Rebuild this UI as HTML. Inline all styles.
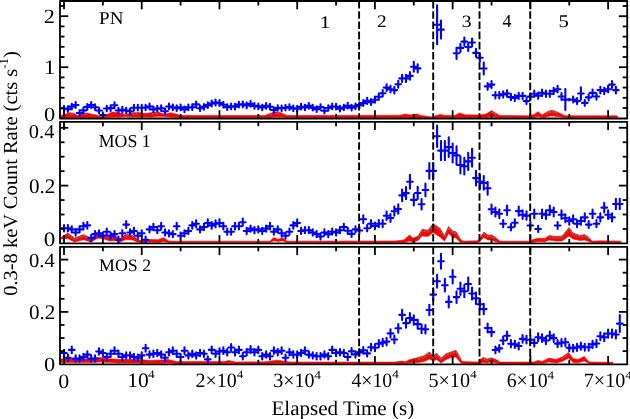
<!DOCTYPE html>
<html><head><meta charset="utf-8"><title>Light curve</title>
<style>html,body{margin:0;padding:0;background:#fff;overflow:hidden}svg{display:block}</style></head>
<body><svg width="630" height="419" viewBox="0 0 630 419"><defs><clipPath id="c0"><rect x="60.0" y="1.0" width="567.2" height="117.5"/></clipPath><clipPath id="c1"><rect x="60.0" y="121.8" width="567.2" height="121.60000000000001"/></clipPath><clipPath id="c2"><rect x="60.0" y="246.8" width="567.2" height="117.5"/></clipPath></defs>
<g clip-path="url(#c0)">
<polygon points="60.5,115.5 65.6,113.9 70.3,112.7 74.3,113.5 78.3,115.9 83.8,113.1 87.8,113.1 91.7,114.3 96.5,115.0 100.5,116.5 104.4,115.5 109.2,113.5 112.0,112.0 120.0,113.1 126.0,114.5 132.0,112.7 138.0,112.5 146.0,113.5 152.0,112.5 158.0,112.0 165.0,114.5 170.0,112.8 176.0,114.0 180.0,115.3 200.0,115.5 265.0,115.5 270.0,113.5 275.0,111.7 280.0,112.5 287.0,115.5 400.0,115.3 405.6,113.9 410.0,115.0 417.2,113.9 420.0,115.3 432.0,117.0 436.0,115.5 440.6,114.4 445.0,115.5 455.0,115.5 459.4,113.0 465.0,114.8 480.0,115.0 486.0,114.0 491.7,110.6 496.0,113.5 500.0,115.5 530.0,115.8 534.0,114.5 538.0,111.7 542.0,115.0 546.0,112.5 550.2,110.6 553.6,110.6 557.0,112.0 561.3,113.9 565.0,115.7 617.0,115.8 618.0,117.5 618.0,117.5 617.0,117.5 565.0,117.5 561.3,117.0 557.0,116.5 553.6,116.0 550.2,116.0 546.0,117.0 542.0,117.5 538.0,116.5 534.0,117.5 530.0,117.5 500.0,117.5 496.0,117.5 491.7,116.5 486.0,117.5 480.0,117.5 465.0,117.5 459.4,117.5 455.0,117.5 445.0,117.5 440.6,117.5 436.0,117.5 432.0,117.8 420.0,117.5 417.2,117.5 410.0,117.5 405.6,117.5 400.0,117.5 287.0,117.5 280.0,117.0 275.0,117.0 270.0,117.5 265.0,117.5 200.0,117.5 180.0,117.5 176.0,117.2 170.0,117.0 165.0,116.5 158.0,116.3 152.0,117.0 146.0,117.0 138.0,117.0 132.0,117.0 126.0,116.5 120.0,117.0 112.0,117.0 109.2,117.2 104.4,117.5 100.5,117.8 96.5,117.5 91.7,117.5 87.8,117.5 83.8,117.5 78.3,117.8 74.3,117.5 70.3,117.5 65.6,117.5 60.5,118.0" fill="#ff0000" stroke="#ff0000" stroke-width="0.6" stroke-linejoin="round"/><polyline points="70.3,114.0 74.3,114.6" fill="none" stroke="#648282" stroke-width="1.4" stroke-dasharray="2.2 1.1" opacity="0.9"/><polyline points="83.8,114.3 87.8,114.3" fill="none" stroke="#648282" stroke-width="1.4" stroke-dasharray="2.2 1.1" opacity="0.9"/><polyline points="132.0,113.9 138.0,113.8" fill="none" stroke="#648282" stroke-width="1.4" stroke-dasharray="2.2 1.1" opacity="0.9"/><polyline points="152.0,113.8 158.0,113.2" fill="none" stroke="#648282" stroke-width="1.4" stroke-dasharray="2.2 1.1" opacity="0.9"/><polyline points="270.0,114.6 275.0,113.1 280.0,113.8" fill="none" stroke="#648282" stroke-width="1.4" stroke-dasharray="2.2 1.1" opacity="0.9"/><polyline points="491.7,112.0 496.0,114.6" fill="none" stroke="#648282" stroke-width="1.4" stroke-dasharray="2.2 1.1" opacity="0.9"/><polyline points="546.0,113.8 550.2,112.0 553.6,112.0 557.0,113.3" fill="none" stroke="#648282" stroke-width="1.4" stroke-dasharray="2.2 1.1" opacity="0.9"/><path d="M61.20 108.50H66.80M65.09 109.10H70.69M68.97 106.60H74.57M72.86 105.00H78.46M76.75 113.00H82.35M80.63 110.40H86.23M84.52 106.90H90.12M88.41 105.00H94.01M92.29 107.20H97.89M96.18 110.50H101.78M100.06 115.00H105.66M103.95 108.50H109.55M107.84 108.10H113.44M111.72 105.30H117.32M115.61 110.50H121.21M119.50 109.70H125.10M123.38 110.50H128.98M127.27 111.30H132.87M131.16 107.70H136.76M135.04 107.70H140.64M138.93 107.70H144.53M142.82 107.50H148.42M146.70 106.50H152.30M150.59 109.40H156.19M154.48 108.60H160.08M158.36 108.20H163.96M162.25 111.30H167.85M166.14 106.50H171.74M170.02 107.40H175.62M173.91 108.20H179.51M177.79 107.40H183.40M181.68 109.40H187.28M185.57 107.40H191.17M189.45 107.20H195.05M193.34 104.40H198.94M197.23 108.30H202.83M201.11 106.80H206.71M205.00 105.10H210.60M208.89 103.50H214.49M212.77 102.50H218.37M216.66 103.10H222.26M220.55 104.70H226.15M224.43 107.10H230.03M228.32 106.30H233.92M232.21 106.70H237.81M236.09 104.60H241.69M239.98 104.40H245.58M243.87 105.50H249.47M247.75 103.90H253.35M251.64 105.90H257.24M255.52 106.40H261.12M259.41 107.50H265.01M263.30 105.90H268.90M267.18 106.70H272.78M271.07 110.00H276.67M274.96 108.00H280.56M278.84 108.30H284.44M282.73 107.70H288.33M286.62 107.10H292.22M290.50 108.40H296.10M294.39 108.70H299.99M298.28 106.70H303.88M302.16 107.50H307.76M306.05 105.90H311.65M309.94 107.60H315.54M313.82 109.10H319.42M317.71 107.10H323.31M321.60 110.70H327.20M325.48 108.00H331.08M329.37 106.50H334.97M333.25 106.70H338.86M337.14 108.70H342.74M341.03 107.50H346.63M344.91 105.70H350.51M348.80 107.60H354.40M352.69 106.40H358.29M356.57 105.10H362.17M360.46 103.10H366.06M364.35 100.90H369.95M368.23 102.10H373.83M372.12 99.70H377.72M376.01 96.70H381.61M379.89 93.20H385.49M383.78 87.60H389.38M387.67 89.20H393.27M391.55 90.10H397.15M395.44 84.20H401.04M399.33 78.40H404.93M403.21 78.40H408.81M407.10 75.90H412.70M410.98 66.70H416.58M414.87 68.40H420.47M434.30 24.80H439.90M438.19 29.60H443.79M453.74 53.30H459.34M457.62 47.90H463.22M461.51 41.60H467.11M465.40 47.00H471.00M469.28 42.50H474.88M473.17 52.90H478.77M477.06 57.70H482.66M480.94 68.50H486.54M484.83 86.40H490.43M488.71 84.60H494.31M492.60 95.30H498.20M496.49 95.30H502.09M500.37 94.40H505.97M504.26 93.50H509.86M508.15 97.10H513.75M512.03 98.00H517.63M515.92 95.90H521.52M519.81 95.90H525.41M523.69 101.10H529.29M527.58 96.60H533.18M531.47 93.80H537.07M535.35 95.60H540.95M539.24 92.90H544.84M543.13 93.80H548.73M547.01 93.80H552.61M550.90 91.00H556.50M554.79 89.20H560.39M558.67 96.50H564.27M562.56 99.60H568.16M566.45 99.60H572.04M570.33 99.50H575.93M574.22 101.10H579.82M578.10 93.50H583.70M581.99 102.90H587.59M585.88 97.40H591.48M589.76 92.90H595.36M593.65 96.50H599.25M597.54 90.10H603.14M601.42 91.00H607.02M605.31 89.20H610.91M609.20 84.60H614.80M613.08 90.10H618.68" stroke="#0000ff" stroke-width="2.1" stroke-linecap="round" fill="none"/><path d="M64.00 105.70V111.30M67.89 106.30V111.90M71.77 103.76V109.44M75.66 102.11V107.89M79.55 110.20V115.80M83.43 107.60V113.20M87.32 104.07V109.73M91.21 102.11V107.89M95.09 104.38V110.02M98.98 107.70V113.30M102.86 112.20V117.80M106.75 105.70V111.30M110.64 105.30V110.90M114.52 102.42V108.18M118.41 107.70V113.30M122.30 106.90V112.50M126.18 107.70V113.30M130.07 108.50V114.10M133.96 104.89V110.51M137.84 104.89V110.51M141.73 104.89V110.51M145.62 104.69V110.31M149.50 103.66V109.34M153.39 106.60V112.20M157.28 105.80V111.40M161.16 105.40V111.00M165.05 108.50V114.10M168.94 103.66V109.34M172.82 104.58V110.22M176.71 105.40V111.00M180.59 104.58V110.22M184.48 106.60V112.20M188.37 104.58V110.22M192.25 104.38V110.02M196.14 101.49V107.31M200.03 105.50V111.10M203.91 103.96V109.64M207.80 102.21V107.99M211.69 100.57V106.43M215.57 99.54V105.46M219.46 100.16V106.04M223.35 101.80V107.60M227.23 104.27V109.93M231.12 103.45V109.15M235.01 103.86V109.54M238.89 101.70V107.50M242.78 101.49V107.31M246.67 102.63V108.37M250.55 100.98V106.82M254.44 103.04V108.76M258.32 103.55V109.25M262.21 104.69V110.31M266.10 103.04V108.76M269.98 103.86V109.54M273.87 107.20V112.80M277.76 105.20V110.80M281.64 105.50V111.10M285.53 104.89V110.51M289.42 104.27V109.93M293.30 105.60V111.20M297.19 105.90V111.50M301.08 103.86V109.54M304.96 104.69V110.31M308.85 103.04V108.76M312.74 104.79V110.41M316.62 106.30V111.90M320.51 104.27V109.93M324.40 107.90V113.50M328.28 105.20V110.80M332.17 103.66V109.34M336.06 103.86V109.54M339.94 105.90V111.50M343.83 104.69V110.31M347.71 102.83V108.57M351.60 104.79V110.41M355.49 103.55V109.25M359.37 102.21V107.99M363.26 100.16V106.04M367.15 97.89V103.91M371.03 99.13V105.07M374.92 96.66V102.74M378.81 93.57V99.83M382.69 89.96V96.44M386.58 84.20V91.00M390.47 85.85V92.55M394.35 86.77V93.43M398.24 80.70V87.70M402.13 74.73V82.07M406.01 74.73V82.07M409.90 72.16V79.64M413.78 61.70V71.70M417.67 64.40V72.40M437.10 5.30V44.30M440.99 20.60V38.60M456.54 47.70V58.90M460.42 43.90V51.90M464.31 37.60V45.60M468.20 43.00V51.00M472.08 38.50V46.50M475.97 48.90V56.90M479.86 53.70V61.70M483.74 62.50V74.50M487.63 82.96V89.84M491.51 81.11V88.09M495.40 92.13V98.47M499.29 92.13V98.47M503.17 91.20V97.60M507.06 90.27V96.73M510.95 93.98V100.22M514.83 94.91V101.09M518.72 92.74V99.06M522.61 92.74V99.06M526.49 98.10V104.10M530.38 93.46V99.74M534.27 90.58V97.02M538.15 92.44V98.76M542.04 89.66V96.14M545.93 90.58V97.02M549.81 90.58V97.02M553.70 87.70V94.30M557.59 85.85V92.55M561.47 93.00V100.00M565.36 89.10V110.10M569.25 98.80V100.40M573.13 96.45V102.55M577.02 98.10V104.10M580.90 87.20V99.80M584.79 99.95V105.85M588.68 94.29V100.51M592.56 89.66V96.14M596.45 93.36V99.64M600.34 86.77V93.43M604.22 87.70V94.30M608.11 85.85V92.55M612.00 81.11V88.09M615.88 86.77V93.43" stroke="#0000ff" stroke-width="2.1" stroke-linecap="round" fill="none"/>
<line x1="359.10" y1="1.00" x2="359.10" y2="118.50" stroke="#000" stroke-width="1.9" stroke-dasharray="7.6 2.6"/>
<line x1="433.20" y1="1.00" x2="433.20" y2="118.50" stroke="#000" stroke-width="1.9" stroke-dasharray="7.6 2.6"/>
<line x1="479.50" y1="1.00" x2="479.50" y2="118.50" stroke="#000" stroke-width="1.9" stroke-dasharray="7.6 2.6"/>
<line x1="530.20" y1="1.00" x2="530.20" y2="118.50" stroke="#000" stroke-width="1.9" stroke-dasharray="7.6 2.6"/>
</g>
<g clip-path="url(#c1)">
<polygon points="60.5,237.0 62.0,236.9 67.9,232.9 74.5,238.1 83.4,234.5 91.0,238.0 98.0,233.7 104.0,234.3 110.0,236.7 115.0,236.0 120.0,238.5 125.7,234.3 133.0,235.5 137.0,239.0 142.0,241.0 150.0,239.5 158.0,239.7 163.7,237.7 169.0,241.2 270.0,241.2 273.8,237.4 278.0,239.5 282.4,237.4 287.0,241.2 395.0,241.0 404.0,240.0 409.5,235.0 413.0,238.3 418.0,236.0 422.0,229.3 428.0,230.2 433.0,223.6 440.0,228.3 444.5,235.5 448.5,226.4 452.5,230.7 456.0,231.7 460.0,238.8 463.0,241.2 478.0,240.8 484.0,232.1 488.0,235.2 491.0,234.8 495.0,237.0 500.0,241.2 530.0,241.2 533.0,239.5 538.0,238.3 545.0,238.5 549.0,235.5 556.0,236.5 562.0,236.0 569.0,227.4 573.0,233.1 580.0,235.5 584.5,234.5 589.0,237.5 592.0,241.2 600.0,240.8 621.0,241.2 621.0,242.5 600.0,242.5 592.0,242.5 589.0,241.5 584.5,240.0 580.0,240.5 573.0,239.0 569.0,236.0 562.0,241.0 556.0,241.0 549.0,240.0 545.0,241.8 538.0,241.5 533.0,242.2 530.0,242.5 500.0,242.5 495.0,241.5 491.0,240.0 488.0,240.0 484.0,237.5 478.0,242.5 463.0,242.5 460.0,242.0 456.0,238.0 452.5,237.0 448.5,233.5 444.5,241.0 440.0,236.9 433.0,232.4 428.0,236.5 422.0,236.0 418.0,240.5 413.0,242.0 409.5,241.0 404.0,242.5 395.0,242.5 287.0,242.5 282.4,240.8 278.0,241.5 273.8,240.8 270.0,242.5 169.0,242.5 163.7,241.5 158.0,242.5 150.0,242.0 142.0,242.5 137.0,242.0 133.0,240.0 125.7,239.5 120.0,242.0 115.0,240.5 110.0,241.0 104.0,239.0 98.0,238.0 91.0,242.0 83.4,239.7 74.5,242.1 67.9,238.5 62.0,238.9 60.5,239.0" fill="#ff0000" stroke="#ff0000" stroke-width="0.6" stroke-linejoin="round"/><polyline points="67.9,234.3 74.5,239.2 83.4,235.9 91.0,239.1 98.0,234.9 104.0,235.6 110.0,237.9 115.0,237.3" fill="none" stroke="#648282" stroke-width="1.4" stroke-dasharray="2.2 1.1" opacity="0.9"/><polyline points="125.7,235.7 133.0,236.8" fill="none" stroke="#648282" stroke-width="1.4" stroke-dasharray="2.2 1.1" opacity="0.9"/><polyline points="418.0,237.3 422.0,230.7 428.0,231.6 433.0,225.0 440.0,229.7 444.5,236.9 448.5,227.8 452.5,232.1 456.0,233.1" fill="none" stroke="#648282" stroke-width="1.4" stroke-dasharray="2.2 1.1" opacity="0.9"/><polyline points="484.0,233.5 488.0,236.5 491.0,236.2 495.0,238.3" fill="none" stroke="#648282" stroke-width="1.4" stroke-dasharray="2.2 1.1" opacity="0.9"/><polyline points="549.0,236.8 556.0,237.8 562.0,237.4 569.0,228.8 573.0,234.5 580.0,236.9 584.5,235.9 589.0,238.6" fill="none" stroke="#648282" stroke-width="1.4" stroke-dasharray="2.2 1.1" opacity="0.9"/><path d="M61.20 228.30H66.80M65.09 228.30H70.69M68.97 229.40H74.57M72.86 232.50H78.46M76.75 229.40H82.35M80.63 226.20H86.23M84.52 225.40H90.12M88.41 238.10H94.01M92.29 234.10H97.89M96.18 233.30H101.78M100.06 235.70H105.66M103.95 231.70H109.55M107.84 235.70H113.44M111.72 234.10H117.32M115.61 239.70H121.21M119.50 233.30H125.10M123.38 224.60H128.98M127.27 232.50H132.87M131.16 231.00H136.76M135.04 235.70H140.64M138.93 233.30H144.53M142.82 239.70H148.42M146.70 229.40H152.30M150.59 227.00H156.19M154.48 230.20H160.08M158.36 226.20H163.96M162.25 232.50H167.85M166.14 233.30H171.74M170.02 234.10H175.62M173.91 226.20H179.51M177.79 235.70H183.40M181.68 233.30H187.28M185.57 231.00H191.17M189.45 225.40H195.05M193.34 223.80H198.94M197.23 229.40H202.83M201.11 227.00H206.71M205.00 223.00H210.60M208.89 225.40H214.49M212.77 223.80H218.37M216.66 223.00H222.26M220.55 226.20H226.15M224.43 231.70H230.03M228.32 231.70H233.92M232.21 226.20H237.81M236.09 226.20H241.69M239.98 222.20H245.58M243.87 231.00H249.47M247.75 228.60H253.35M251.64 230.20H257.24M255.52 229.40H261.12M259.41 231.00H265.01M263.30 228.60H268.90M267.18 226.20H272.78M271.07 231.70H276.67M274.96 229.40H280.56M278.84 233.30H284.44M282.73 235.70H288.33M286.62 231.70H292.22M290.50 225.40H296.10M294.39 223.00H299.99M298.28 231.00H303.88M302.16 230.20H307.76M306.05 230.20H311.65M309.94 232.50H315.54M313.82 234.10H319.42M317.71 236.50H323.31M321.60 232.50H327.20M325.48 234.10H331.08M329.37 231.70H334.97M333.25 232.50H338.86M337.14 230.20H342.74M341.03 227.00H346.63M344.91 230.80H350.51M348.80 233.90H354.40M352.69 229.40H358.29M356.57 230.50H362.17M360.46 219.20H366.06M364.35 228.20H369.95M368.23 223.70H373.83M372.12 226.00H377.72M376.01 223.70H381.61M379.89 223.70H385.49M383.78 215.80H389.38M387.67 218.00H393.27M391.55 211.20H397.15M395.44 209.00H401.04M399.33 195.40H404.93M403.21 193.10H408.81M407.10 181.70H412.70M410.98 199.90H416.58M414.87 193.00H420.47M418.76 204.30H424.36M422.64 190.00H428.24M426.53 170.90H432.13M430.42 170.90H436.02M434.30 136.30H439.90M438.19 150.60H443.79M442.08 150.60H447.68M445.96 147.10H451.56M449.85 153.00H455.45M453.74 155.40H459.34M457.62 165.00H463.22M461.51 166.20H467.11M465.40 161.40H471.00M469.28 157.80H474.88M473.17 178.10H478.77M477.06 181.70H482.66M480.94 182.90H486.54M484.83 188.30H490.43M488.71 209.20H494.31M492.60 212.00H498.20M496.49 213.80H502.09M500.37 223.70H505.97M504.26 210.30H509.86M508.15 227.20H513.75M512.03 222.80H517.63M515.92 211.10H521.52M519.81 214.70H525.41M523.69 215.60H529.29M527.58 225.50H533.18M531.47 213.80H537.07M535.35 229.00H540.95M539.24 213.80H544.84M543.13 214.70H548.73M547.01 210.30H552.61M550.90 212.00H556.50M554.79 225.50H560.39M558.67 214.70H564.27M562.56 218.30H568.16M566.45 221.00H572.04M570.33 219.20H575.93M574.22 223.70H579.82M578.10 221.00H583.70M581.99 217.40H587.59M585.88 224.60H591.48M589.76 213.80H595.36M593.65 223.70H599.25M597.54 217.40H603.14M601.42 207.60H607.02M605.31 214.70H610.91M609.20 217.40H614.80M613.08 204.00H618.68M616.97 204.00H622.57" stroke="#0000ff" stroke-width="2.1" stroke-linecap="round" fill="none"/><path d="M64.00 225.15V231.45M67.89 225.15V231.45M71.77 226.30V232.50M75.66 229.40V235.60M79.55 226.30V232.50M83.43 222.87V229.53M87.32 222.01V228.79M91.21 235.00V241.20M95.09 231.00V237.20M98.98 230.20V236.40M102.86 232.60V238.80M106.75 228.60V234.80M110.64 232.60V238.80M114.52 231.00V237.20M118.41 236.60V242.80M122.30 230.20V236.40M126.18 221.14V228.06M130.07 229.40V235.60M133.96 227.90V234.10M137.84 232.60V238.80M141.73 230.20V236.40M145.62 236.60V242.80M149.50 226.30V232.50M153.39 223.74V230.26M157.28 227.10V233.30M161.16 222.87V229.53M165.05 229.40V235.60M168.94 230.20V236.40M172.82 231.00V237.20M176.71 222.87V229.53M180.59 232.60V238.80M184.48 230.20V236.40M188.37 227.90V234.10M192.25 222.01V228.79M196.14 220.27V227.33M200.03 226.30V232.50M203.91 223.74V230.26M207.80 219.41V226.59M211.69 222.01V228.79M215.57 220.27V227.33M219.46 219.41V226.59M223.35 222.87V229.53M227.23 228.60V234.80M231.12 228.60V234.80M235.01 222.87V229.53M238.89 222.87V229.53M242.78 218.54V225.86M246.67 227.90V234.10M250.55 225.47V231.73M254.44 227.10V233.30M258.32 226.30V232.50M262.21 227.90V234.10M266.10 225.47V231.73M269.98 222.87V229.53M273.87 228.60V234.80M277.76 226.30V232.50M281.64 230.20V236.40M285.53 232.60V238.80M289.42 228.60V234.80M293.30 222.01V228.79M297.19 219.41V226.59M301.08 227.90V234.10M304.96 227.10V233.30M308.85 227.10V233.30M312.74 229.40V235.60M316.62 231.00V237.20M320.51 233.40V239.60M324.40 229.40V235.60M328.28 231.00V237.20M332.17 228.60V234.80M336.06 229.40V235.60M339.94 227.10V233.30M343.83 223.74V230.26M347.71 227.70V233.90M351.60 230.80V237.00M355.49 226.30V232.50M359.37 227.40V233.60M363.26 215.29V223.11M367.15 225.04V231.36M371.03 220.16V227.24M374.92 222.66V229.34M378.81 220.16V227.24M382.69 220.16V227.24M386.58 211.61V219.99M390.47 213.99V222.01M394.35 206.63V215.77M398.24 204.24V213.76M402.13 189.51V201.29M406.01 187.02V199.18M409.90 174.68V188.72M413.78 194.39V205.41M417.67 186.91V199.09M421.56 199.15V209.45M425.44 183.67V196.33M429.33 162.98V178.82M433.22 162.98V178.82M437.10 125.51V147.09M440.99 140.99V160.21M444.88 140.99V160.21M448.76 137.20V157.00M452.65 143.59V162.41M456.54 146.19V164.61M460.42 156.59V173.41M464.31 157.89V174.51M468.20 152.69V170.11M472.08 148.79V166.81M475.97 170.78V185.42M479.86 174.68V188.72M483.74 175.98V189.82M487.63 181.82V194.78M491.51 204.46V213.94M495.40 207.49V216.51M499.29 209.44V218.16M503.17 220.16V227.24M507.06 205.65V214.95M510.95 223.95V230.45M514.83 219.19V226.41M518.72 206.52V215.68M522.61 210.42V218.98M526.49 211.39V219.81M530.38 222.11V228.89M534.27 209.44V218.16M538.15 225.90V232.10M542.04 209.44V218.16M545.93 210.42V218.98M549.81 205.65V214.95M553.70 207.49V216.51M557.59 222.11V228.89M561.47 210.42V218.98M565.36 214.32V222.28M569.25 217.24V224.76M573.13 215.29V223.11M577.02 220.16V227.24M580.90 217.24V224.76M584.79 213.34V221.46M588.68 221.14V228.06M592.56 209.44V218.16M596.45 220.16V227.24M600.34 213.34V221.46M604.22 202.73V212.47M608.11 210.42V218.98M612.00 213.34V221.46M615.88 198.83V209.17M619.77 198.83V209.17" stroke="#0000ff" stroke-width="2.1" stroke-linecap="round" fill="none"/>
<line x1="359.10" y1="121.80" x2="359.10" y2="243.40" stroke="#000" stroke-width="1.9" stroke-dasharray="7.6 2.6"/>
<line x1="433.20" y1="121.80" x2="433.20" y2="243.40" stroke="#000" stroke-width="1.9" stroke-dasharray="7.6 2.6"/>
<line x1="479.50" y1="121.80" x2="479.50" y2="243.40" stroke="#000" stroke-width="1.9" stroke-dasharray="7.6 2.6"/>
<line x1="530.20" y1="121.80" x2="530.20" y2="243.40" stroke="#000" stroke-width="1.9" stroke-dasharray="7.6 2.6"/>
</g>
<g clip-path="url(#c2)">
<polygon points="60.5,359.0 70.0,358.5 80.0,359.0 90.0,358.7 100.0,357.4 110.0,358.8 118.0,359.3 140.0,359.5 150.0,360.5 160.0,360.0 168.0,359.6 176.0,361.6 225.0,361.6 228.0,360.5 236.0,362.0 265.0,361.8 277.0,360.2 290.0,362.0 395.0,362.1 402.0,361.0 405.0,361.9 410.0,359.5 418.0,357.6 424.0,355.7 429.5,351.9 433.0,355.7 436.5,353.3 441.0,358.1 446.0,353.8 451.0,351.9 456.0,350.2 460.0,357.4 462.0,361.6 478.0,362.1 480.0,359.5 483.5,357.4 487.0,359.0 491.0,357.8 496.0,359.5 500.0,362.1 534.0,362.0 538.0,360.5 542.0,361.4 549.0,358.1 556.0,359.5 562.0,357.1 568.5,352.4 573.0,358.6 578.0,359.5 584.3,356.5 589.0,362.0 613.0,362.3 613.0,363.5 589.0,363.5 584.3,361.0 578.0,362.8 573.0,362.5 568.5,358.0 562.0,361.5 556.0,363.0 549.0,362.0 542.0,363.5 538.0,363.3 534.0,363.5 500.0,363.5 496.0,363.0 491.0,362.0 487.0,363.0 483.5,362.5 480.0,363.2 478.0,363.5 462.0,363.5 460.0,362.0 456.0,357.0 451.0,357.6 446.0,359.5 441.0,363.0 436.5,359.5 433.0,361.0 429.5,359.0 424.0,361.5 418.0,362.5 410.0,363.0 405.0,363.5 402.0,363.5 395.0,363.5 290.0,363.5 277.0,363.3 265.0,363.5 236.0,363.5 228.0,363.3 225.0,363.5 176.0,363.5 168.0,363.0 160.0,363.3 150.0,363.3 140.0,363.0 118.0,363.0 110.0,362.6 100.0,362.0 90.0,362.6 80.0,362.6 70.0,362.6 60.5,362.6" fill="#ff0000" stroke="#ff0000" stroke-width="0.6" stroke-linejoin="round"/><polyline points="418.0,359.0 424.0,357.1 429.5,353.3 433.0,357.1 436.5,354.7 441.0,359.5 446.0,355.2 451.0,353.3 456.0,351.6 460.0,358.7" fill="none" stroke="#648282" stroke-width="1.4" stroke-dasharray="2.2 1.1" opacity="0.9"/><polyline points="483.5,358.8 487.0,360.1 491.0,359.0" fill="none" stroke="#648282" stroke-width="1.4" stroke-dasharray="2.2 1.1" opacity="0.9"/><polyline points="562.0,358.3 568.5,353.8" fill="none" stroke="#648282" stroke-width="1.4" stroke-dasharray="2.2 1.1" opacity="0.9"/><path d="M61.20 353.00H66.80M65.09 357.80H70.69M68.97 349.90H74.57M72.86 358.60H78.46M76.75 358.60H82.35M80.63 357.00H86.23M84.52 354.60H90.12M88.41 358.60H94.01M92.29 358.60H97.89M96.18 351.50H101.78M100.06 353.00H105.66M103.95 357.00H109.55M107.84 353.80H113.44M111.72 350.70H117.32M115.61 353.80H121.21M119.50 357.00H125.10M123.38 355.40H128.98M127.27 355.40H132.87M131.16 357.00H136.76M135.04 357.80H140.64M138.93 355.40H144.53M142.82 348.30H148.42M146.70 354.60H152.30M150.59 353.80H156.19M154.48 353.00H160.08M158.36 354.60H163.96M162.25 357.80H167.85M166.14 352.20H171.74M170.02 350.70H175.62M173.91 353.80H179.51M177.79 357.00H183.40M181.68 350.70H187.28M185.57 355.40H191.17M189.45 353.80H195.05M193.34 355.40H198.94M197.23 353.00H202.83M201.11 353.80H206.71M205.00 359.40H210.60M208.89 349.90H214.49M212.77 353.80H218.37M216.66 351.50H222.26M220.55 350.70H226.15M224.43 352.20H230.03M228.32 347.50H233.92M232.21 352.20H237.81M236.09 349.90H241.69M239.98 356.20H245.58M243.87 352.20H249.47M247.75 349.50H253.35M251.64 352.20H257.24M255.52 349.90H261.12M259.41 356.20H265.01M263.30 354.60H268.90M267.18 356.20H272.78M271.07 350.70H276.67M274.96 352.20H280.56M278.84 350.70H284.44M282.73 357.80H288.33M286.62 352.20H292.22M290.50 354.60H296.10M294.39 354.60H299.99M298.28 353.00H303.88M302.16 350.70H307.76M306.05 354.60H311.65M309.94 355.40H315.54M313.82 356.20H319.42M317.71 356.20H323.31M321.60 354.60H327.20M325.48 356.20H331.08M329.37 349.90H334.97M333.25 353.00H338.86M337.14 352.20H342.74M341.03 353.00H346.63M344.91 357.00H350.51M348.80 351.30H354.40M352.69 354.40H358.29M356.57 352.40H362.17M360.46 350.30H366.06M364.35 353.40H369.95M368.23 347.20H373.83M372.12 347.80H377.72M376.01 343.70H381.61M379.89 342.60H385.49M383.78 341.60H389.38M387.67 333.40H393.27M391.55 339.50H397.15M395.44 328.30H401.04M399.33 314.90H404.93M403.21 323.10H408.81M407.10 318.00H412.70M410.98 320.00H416.58M414.87 324.10H420.47M418.76 328.80H424.36M422.64 329.30H428.24M426.53 310.00H432.13M430.42 294.60H436.02M434.30 281.30H439.90M438.19 261.30H443.79M442.08 285.20H447.68M445.96 301.90H451.56M449.85 276.80H455.45M453.74 297.10H459.34M457.62 288.80H463.22M461.51 291.20H467.11M465.40 284.00H471.00M469.28 293.50H474.88M473.17 298.30H478.77M477.06 304.30H482.66M480.94 309.10H486.54M484.83 328.00H490.43M488.71 332.10H494.31M492.60 350.00H498.20M496.49 348.40H502.09M500.37 340.50H505.97M504.26 335.70H509.86M508.15 343.70H513.75M512.03 344.40H517.63M515.92 346.00H521.52M519.81 338.90H525.41M523.69 339.70H529.29M527.58 339.70H533.18M531.47 342.90H537.07M535.35 337.30H540.95M539.24 338.10H544.84M543.13 340.50H548.73M547.01 335.70H552.61M550.90 338.10H556.50M554.79 343.60H560.39M558.67 342.70H564.27M562.56 342.30H568.16M566.45 347.80H572.04M570.33 348.20H575.93M574.22 347.40H579.82M578.10 346.20H583.70M581.99 347.20H587.59M585.88 347.20H591.48M589.76 344.40H595.36M593.65 343.50H599.25M597.54 336.30H603.14M601.42 337.20H607.02M605.31 333.60H610.91M609.20 333.60H614.80M613.08 334.50H618.68M616.97 323.60H622.57" stroke="#0000ff" stroke-width="2.1" stroke-linecap="round" fill="none"/><path d="M64.00 349.77V356.23M67.89 354.60V361.00M71.77 346.52V353.28M75.66 355.40V361.80M79.55 355.40V361.80M83.43 353.80V360.20M87.32 351.40V357.80M91.21 355.40V361.80M95.09 355.40V361.80M98.98 348.20V354.80M102.86 349.77V356.23M106.75 353.80V360.20M110.64 350.60V357.00M114.52 347.36V354.04M118.41 350.60V357.00M122.30 353.80V360.20M126.18 352.20V358.60M130.07 352.20V358.60M133.96 353.80V360.20M137.84 354.60V361.00M141.73 352.20V358.60M145.62 344.85V351.75M149.50 351.40V357.80M153.39 350.60V357.00M157.28 349.77V356.23M161.16 351.40V357.80M165.05 354.60V361.00M168.94 348.93V355.47M172.82 347.36V354.04M176.71 350.60V357.00M180.59 353.80V360.20M184.48 347.36V354.04M188.37 352.20V358.60M192.25 350.60V357.00M196.14 352.20V358.60M200.03 349.77V356.23M203.91 350.60V357.00M207.80 356.20V362.60M211.69 346.52V353.28M215.57 350.60V357.00M219.46 348.20V354.80M223.35 347.36V354.04M227.23 348.93V355.47M231.12 344.01V350.99M235.01 348.93V355.47M238.89 346.52V353.28M242.78 353.00V359.40M246.67 348.93V355.47M250.55 346.11V352.89M254.44 348.93V355.47M258.32 346.52V353.28M262.21 353.00V359.40M266.10 351.40V357.80M269.98 353.00V359.40M273.87 347.36V354.04M277.76 348.93V355.47M281.64 347.36V354.04M285.53 354.60V361.00M289.42 348.93V355.47M293.30 351.40V357.80M297.19 351.40V357.80M301.08 349.77V356.23M304.96 347.36V354.04M308.85 351.40V357.80M312.74 352.20V358.60M316.62 353.00V359.40M320.51 353.00V359.40M324.40 351.40V357.80M328.28 353.00V359.40M332.17 346.52V353.28M336.06 349.77V356.23M339.94 348.93V355.47M343.83 349.77V356.23M347.71 353.80V360.20M351.60 347.99V354.61M355.49 351.20V357.60M359.37 349.14V355.66M363.26 346.94V353.66M367.15 350.18V356.62M371.03 343.70V350.70M374.92 344.33V351.27M378.81 340.04V347.36M382.69 338.89V346.31M386.58 337.84V345.36M390.47 329.27V337.53M394.35 335.65V343.35M398.24 323.93V332.67M402.13 309.92V319.88M406.01 318.49V327.71M409.90 313.16V322.84M413.78 315.25V324.75M417.67 319.54V328.66M421.56 324.46V333.14M425.44 324.98V333.62M429.33 304.79V315.21M433.22 288.69V300.51M437.10 274.78V287.82M440.99 253.86V268.74M444.88 278.85V291.55M448.76 296.32V307.48M452.65 270.07V283.53M456.54 291.30V302.90M460.42 282.62V294.98M464.31 285.13V297.27M468.20 277.60V290.40M472.08 287.54V299.46M475.97 292.56V304.04M479.86 298.83V309.77M483.74 303.85V314.35M487.63 323.62V332.38M491.51 327.91V336.29M495.40 346.63V353.37M499.29 344.95V351.85M503.17 336.69V344.31M507.06 331.67V339.73M510.95 340.04V347.36M514.83 340.77V348.03M518.72 342.44V349.56M522.61 335.02V342.78M526.49 335.86V343.54M530.38 335.86V343.54M534.27 339.20V346.60M538.15 333.35V341.25M542.04 334.18V342.02M545.93 336.69V344.31M549.81 331.67V339.73M553.70 334.18V342.02M557.59 339.93V347.27M561.47 338.99V346.41M565.36 338.58V346.02M569.25 344.33V351.27M573.13 344.75V351.65M577.02 343.91V350.89M580.90 342.65V349.75M584.79 343.70V350.70M588.68 343.70V350.70M592.56 340.77V348.03M596.45 339.83V347.17M600.34 332.30V340.30M604.22 333.24V341.16M608.11 329.48V337.72M612.00 329.48V337.72M615.88 330.42V338.58M619.77 315.10V332.10" stroke="#0000ff" stroke-width="2.1" stroke-linecap="round" fill="none"/>
<line x1="359.10" y1="246.80" x2="359.10" y2="364.30" stroke="#000" stroke-width="1.9" stroke-dasharray="7.6 2.6"/>
<line x1="433.20" y1="246.80" x2="433.20" y2="364.30" stroke="#000" stroke-width="1.9" stroke-dasharray="7.6 2.6"/>
<line x1="479.50" y1="246.80" x2="479.50" y2="364.30" stroke="#000" stroke-width="1.9" stroke-dasharray="7.6 2.6"/>
<line x1="530.20" y1="246.80" x2="530.20" y2="364.30" stroke="#000" stroke-width="1.9" stroke-dasharray="7.6 2.6"/>
</g>
<line x1="64.00" y1="1.00" x2="64.00" y2="9.30" stroke="#000" stroke-width="1.8" />
<line x1="64.00" y1="118.50" x2="64.00" y2="110.20" stroke="#000" stroke-width="1.8" />
<line x1="102.87" y1="1.00" x2="102.87" y2="5.50" stroke="#000" stroke-width="1.8" />
<line x1="102.87" y1="118.50" x2="102.87" y2="114.00" stroke="#000" stroke-width="1.8" />
<line x1="141.73" y1="1.00" x2="141.73" y2="9.30" stroke="#000" stroke-width="1.8" />
<line x1="141.73" y1="118.50" x2="141.73" y2="110.20" stroke="#000" stroke-width="1.8" />
<line x1="180.59" y1="1.00" x2="180.59" y2="5.50" stroke="#000" stroke-width="1.8" />
<line x1="180.59" y1="118.50" x2="180.59" y2="114.00" stroke="#000" stroke-width="1.8" />
<line x1="219.46" y1="1.00" x2="219.46" y2="9.30" stroke="#000" stroke-width="1.8" />
<line x1="219.46" y1="118.50" x2="219.46" y2="110.20" stroke="#000" stroke-width="1.8" />
<line x1="258.33" y1="1.00" x2="258.33" y2="5.50" stroke="#000" stroke-width="1.8" />
<line x1="258.33" y1="118.50" x2="258.33" y2="114.00" stroke="#000" stroke-width="1.8" />
<line x1="297.19" y1="1.00" x2="297.19" y2="9.30" stroke="#000" stroke-width="1.8" />
<line x1="297.19" y1="118.50" x2="297.19" y2="110.20" stroke="#000" stroke-width="1.8" />
<line x1="336.06" y1="1.00" x2="336.06" y2="5.50" stroke="#000" stroke-width="1.8" />
<line x1="336.06" y1="118.50" x2="336.06" y2="114.00" stroke="#000" stroke-width="1.8" />
<line x1="374.92" y1="1.00" x2="374.92" y2="9.30" stroke="#000" stroke-width="1.8" />
<line x1="374.92" y1="118.50" x2="374.92" y2="110.20" stroke="#000" stroke-width="1.8" />
<line x1="413.79" y1="1.00" x2="413.79" y2="5.50" stroke="#000" stroke-width="1.8" />
<line x1="413.79" y1="118.50" x2="413.79" y2="114.00" stroke="#000" stroke-width="1.8" />
<line x1="452.65" y1="1.00" x2="452.65" y2="9.30" stroke="#000" stroke-width="1.8" />
<line x1="452.65" y1="118.50" x2="452.65" y2="110.20" stroke="#000" stroke-width="1.8" />
<line x1="491.52" y1="1.00" x2="491.52" y2="5.50" stroke="#000" stroke-width="1.8" />
<line x1="491.52" y1="118.50" x2="491.52" y2="114.00" stroke="#000" stroke-width="1.8" />
<line x1="530.38" y1="1.00" x2="530.38" y2="9.30" stroke="#000" stroke-width="1.8" />
<line x1="530.38" y1="118.50" x2="530.38" y2="110.20" stroke="#000" stroke-width="1.8" />
<line x1="569.25" y1="1.00" x2="569.25" y2="5.50" stroke="#000" stroke-width="1.8" />
<line x1="569.25" y1="118.50" x2="569.25" y2="114.00" stroke="#000" stroke-width="1.8" />
<line x1="608.11" y1="1.00" x2="608.11" y2="9.30" stroke="#000" stroke-width="1.8" />
<line x1="608.11" y1="118.50" x2="608.11" y2="110.20" stroke="#000" stroke-width="1.8" />
<line x1="60.00" y1="108.00" x2="64.50" y2="108.00" stroke="#000" stroke-width="1.8" />
<line x1="627.20" y1="108.00" x2="622.70" y2="108.00" stroke="#000" stroke-width="1.8" />
<line x1="60.00" y1="97.80" x2="64.50" y2="97.80" stroke="#000" stroke-width="1.8" />
<line x1="627.20" y1="97.80" x2="622.70" y2="97.80" stroke="#000" stroke-width="1.8" />
<line x1="60.00" y1="87.60" x2="64.50" y2="87.60" stroke="#000" stroke-width="1.8" />
<line x1="627.20" y1="87.60" x2="622.70" y2="87.60" stroke="#000" stroke-width="1.8" />
<line x1="60.00" y1="77.40" x2="64.50" y2="77.40" stroke="#000" stroke-width="1.8" />
<line x1="627.20" y1="77.40" x2="622.70" y2="77.40" stroke="#000" stroke-width="1.8" />
<line x1="60.00" y1="67.20" x2="68.30" y2="67.20" stroke="#000" stroke-width="1.8" />
<line x1="627.20" y1="67.20" x2="618.90" y2="67.20" stroke="#000" stroke-width="1.8" />
<line x1="60.00" y1="57.00" x2="64.50" y2="57.00" stroke="#000" stroke-width="1.8" />
<line x1="627.20" y1="57.00" x2="622.70" y2="57.00" stroke="#000" stroke-width="1.8" />
<line x1="60.00" y1="46.80" x2="64.50" y2="46.80" stroke="#000" stroke-width="1.8" />
<line x1="627.20" y1="46.80" x2="622.70" y2="46.80" stroke="#000" stroke-width="1.8" />
<line x1="60.00" y1="36.60" x2="64.50" y2="36.60" stroke="#000" stroke-width="1.8" />
<line x1="627.20" y1="36.60" x2="622.70" y2="36.60" stroke="#000" stroke-width="1.8" />
<line x1="60.00" y1="26.40" x2="64.50" y2="26.40" stroke="#000" stroke-width="1.8" />
<line x1="627.20" y1="26.40" x2="622.70" y2="26.40" stroke="#000" stroke-width="1.8" />
<line x1="60.00" y1="16.20" x2="68.30" y2="16.20" stroke="#000" stroke-width="1.8" />
<line x1="627.20" y1="16.20" x2="618.90" y2="16.20" stroke="#000" stroke-width="1.8" />
<line x1="60.00" y1="6.00" x2="64.50" y2="6.00" stroke="#000" stroke-width="1.8" />
<line x1="627.20" y1="6.00" x2="622.70" y2="6.00" stroke="#000" stroke-width="1.8" />
<rect x="60.00" y="1.00" width="567.20" height="117.50" fill="none" stroke="#000" stroke-width="1.8" stroke-linejoin="round"/>
<line x1="64.00" y1="121.80" x2="64.00" y2="130.10" stroke="#000" stroke-width="1.8" />
<line x1="64.00" y1="243.40" x2="64.00" y2="235.10" stroke="#000" stroke-width="1.8" />
<line x1="102.87" y1="121.80" x2="102.87" y2="126.30" stroke="#000" stroke-width="1.8" />
<line x1="102.87" y1="243.40" x2="102.87" y2="238.90" stroke="#000" stroke-width="1.8" />
<line x1="141.73" y1="121.80" x2="141.73" y2="130.10" stroke="#000" stroke-width="1.8" />
<line x1="141.73" y1="243.40" x2="141.73" y2="235.10" stroke="#000" stroke-width="1.8" />
<line x1="180.59" y1="121.80" x2="180.59" y2="126.30" stroke="#000" stroke-width="1.8" />
<line x1="180.59" y1="243.40" x2="180.59" y2="238.90" stroke="#000" stroke-width="1.8" />
<line x1="219.46" y1="121.80" x2="219.46" y2="130.10" stroke="#000" stroke-width="1.8" />
<line x1="219.46" y1="243.40" x2="219.46" y2="235.10" stroke="#000" stroke-width="1.8" />
<line x1="258.33" y1="121.80" x2="258.33" y2="126.30" stroke="#000" stroke-width="1.8" />
<line x1="258.33" y1="243.40" x2="258.33" y2="238.90" stroke="#000" stroke-width="1.8" />
<line x1="297.19" y1="121.80" x2="297.19" y2="130.10" stroke="#000" stroke-width="1.8" />
<line x1="297.19" y1="243.40" x2="297.19" y2="235.10" stroke="#000" stroke-width="1.8" />
<line x1="336.06" y1="121.80" x2="336.06" y2="126.30" stroke="#000" stroke-width="1.8" />
<line x1="336.06" y1="243.40" x2="336.06" y2="238.90" stroke="#000" stroke-width="1.8" />
<line x1="374.92" y1="121.80" x2="374.92" y2="130.10" stroke="#000" stroke-width="1.8" />
<line x1="374.92" y1="243.40" x2="374.92" y2="235.10" stroke="#000" stroke-width="1.8" />
<line x1="413.79" y1="121.80" x2="413.79" y2="126.30" stroke="#000" stroke-width="1.8" />
<line x1="413.79" y1="243.40" x2="413.79" y2="238.90" stroke="#000" stroke-width="1.8" />
<line x1="452.65" y1="121.80" x2="452.65" y2="130.10" stroke="#000" stroke-width="1.8" />
<line x1="452.65" y1="243.40" x2="452.65" y2="235.10" stroke="#000" stroke-width="1.8" />
<line x1="491.52" y1="121.80" x2="491.52" y2="126.30" stroke="#000" stroke-width="1.8" />
<line x1="491.52" y1="243.40" x2="491.52" y2="238.90" stroke="#000" stroke-width="1.8" />
<line x1="530.38" y1="121.80" x2="530.38" y2="130.10" stroke="#000" stroke-width="1.8" />
<line x1="530.38" y1="243.40" x2="530.38" y2="235.10" stroke="#000" stroke-width="1.8" />
<line x1="569.25" y1="121.80" x2="569.25" y2="126.30" stroke="#000" stroke-width="1.8" />
<line x1="569.25" y1="243.40" x2="569.25" y2="238.90" stroke="#000" stroke-width="1.8" />
<line x1="608.11" y1="121.80" x2="608.11" y2="130.10" stroke="#000" stroke-width="1.8" />
<line x1="608.11" y1="243.40" x2="608.11" y2="235.10" stroke="#000" stroke-width="1.8" />
<line x1="60.00" y1="228.95" x2="64.50" y2="228.95" stroke="#000" stroke-width="1.8" />
<line x1="627.20" y1="228.95" x2="622.70" y2="228.95" stroke="#000" stroke-width="1.8" />
<line x1="60.00" y1="214.50" x2="64.50" y2="214.50" stroke="#000" stroke-width="1.8" />
<line x1="627.20" y1="214.50" x2="622.70" y2="214.50" stroke="#000" stroke-width="1.8" />
<line x1="60.00" y1="200.05" x2="64.50" y2="200.05" stroke="#000" stroke-width="1.8" />
<line x1="627.20" y1="200.05" x2="622.70" y2="200.05" stroke="#000" stroke-width="1.8" />
<line x1="60.00" y1="185.60" x2="68.30" y2="185.60" stroke="#000" stroke-width="1.8" />
<line x1="627.20" y1="185.60" x2="618.90" y2="185.60" stroke="#000" stroke-width="1.8" />
<line x1="60.00" y1="171.15" x2="64.50" y2="171.15" stroke="#000" stroke-width="1.8" />
<line x1="627.20" y1="171.15" x2="622.70" y2="171.15" stroke="#000" stroke-width="1.8" />
<line x1="60.00" y1="156.70" x2="64.50" y2="156.70" stroke="#000" stroke-width="1.8" />
<line x1="627.20" y1="156.70" x2="622.70" y2="156.70" stroke="#000" stroke-width="1.8" />
<line x1="60.00" y1="142.25" x2="64.50" y2="142.25" stroke="#000" stroke-width="1.8" />
<line x1="627.20" y1="142.25" x2="622.70" y2="142.25" stroke="#000" stroke-width="1.8" />
<line x1="60.00" y1="127.80" x2="68.30" y2="127.80" stroke="#000" stroke-width="1.8" />
<line x1="627.20" y1="127.80" x2="618.90" y2="127.80" stroke="#000" stroke-width="1.8" />
<rect x="60.00" y="121.80" width="567.20" height="121.60" fill="none" stroke="#000" stroke-width="1.8" stroke-linejoin="round"/>
<line x1="64.00" y1="246.80" x2="64.00" y2="255.10" stroke="#000" stroke-width="1.8" />
<line x1="64.00" y1="364.30" x2="64.00" y2="356.00" stroke="#000" stroke-width="1.8" />
<line x1="102.87" y1="246.80" x2="102.87" y2="251.30" stroke="#000" stroke-width="1.8" />
<line x1="102.87" y1="364.30" x2="102.87" y2="359.80" stroke="#000" stroke-width="1.8" />
<line x1="141.73" y1="246.80" x2="141.73" y2="255.10" stroke="#000" stroke-width="1.8" />
<line x1="141.73" y1="364.30" x2="141.73" y2="356.00" stroke="#000" stroke-width="1.8" />
<line x1="180.59" y1="246.80" x2="180.59" y2="251.30" stroke="#000" stroke-width="1.8" />
<line x1="180.59" y1="364.30" x2="180.59" y2="359.80" stroke="#000" stroke-width="1.8" />
<line x1="219.46" y1="246.80" x2="219.46" y2="255.10" stroke="#000" stroke-width="1.8" />
<line x1="219.46" y1="364.30" x2="219.46" y2="356.00" stroke="#000" stroke-width="1.8" />
<line x1="258.33" y1="246.80" x2="258.33" y2="251.30" stroke="#000" stroke-width="1.8" />
<line x1="258.33" y1="364.30" x2="258.33" y2="359.80" stroke="#000" stroke-width="1.8" />
<line x1="297.19" y1="246.80" x2="297.19" y2="255.10" stroke="#000" stroke-width="1.8" />
<line x1="297.19" y1="364.30" x2="297.19" y2="356.00" stroke="#000" stroke-width="1.8" />
<line x1="336.06" y1="246.80" x2="336.06" y2="251.30" stroke="#000" stroke-width="1.8" />
<line x1="336.06" y1="364.30" x2="336.06" y2="359.80" stroke="#000" stroke-width="1.8" />
<line x1="374.92" y1="246.80" x2="374.92" y2="255.10" stroke="#000" stroke-width="1.8" />
<line x1="374.92" y1="364.30" x2="374.92" y2="356.00" stroke="#000" stroke-width="1.8" />
<line x1="413.79" y1="246.80" x2="413.79" y2="251.30" stroke="#000" stroke-width="1.8" />
<line x1="413.79" y1="364.30" x2="413.79" y2="359.80" stroke="#000" stroke-width="1.8" />
<line x1="452.65" y1="246.80" x2="452.65" y2="255.10" stroke="#000" stroke-width="1.8" />
<line x1="452.65" y1="364.30" x2="452.65" y2="356.00" stroke="#000" stroke-width="1.8" />
<line x1="491.52" y1="246.80" x2="491.52" y2="251.30" stroke="#000" stroke-width="1.8" />
<line x1="491.52" y1="364.30" x2="491.52" y2="359.80" stroke="#000" stroke-width="1.8" />
<line x1="530.38" y1="246.80" x2="530.38" y2="255.10" stroke="#000" stroke-width="1.8" />
<line x1="530.38" y1="364.30" x2="530.38" y2="356.00" stroke="#000" stroke-width="1.8" />
<line x1="569.25" y1="246.80" x2="569.25" y2="251.30" stroke="#000" stroke-width="1.8" />
<line x1="569.25" y1="364.30" x2="569.25" y2="359.80" stroke="#000" stroke-width="1.8" />
<line x1="608.11" y1="246.80" x2="608.11" y2="255.10" stroke="#000" stroke-width="1.8" />
<line x1="608.11" y1="364.30" x2="608.11" y2="356.00" stroke="#000" stroke-width="1.8" />
<line x1="60.00" y1="351.12" x2="64.50" y2="351.12" stroke="#000" stroke-width="1.8" />
<line x1="627.20" y1="351.12" x2="622.70" y2="351.12" stroke="#000" stroke-width="1.8" />
<line x1="60.00" y1="338.05" x2="64.50" y2="338.05" stroke="#000" stroke-width="1.8" />
<line x1="627.20" y1="338.05" x2="622.70" y2="338.05" stroke="#000" stroke-width="1.8" />
<line x1="60.00" y1="324.97" x2="64.50" y2="324.97" stroke="#000" stroke-width="1.8" />
<line x1="627.20" y1="324.97" x2="622.70" y2="324.97" stroke="#000" stroke-width="1.8" />
<line x1="60.00" y1="311.90" x2="68.30" y2="311.90" stroke="#000" stroke-width="1.8" />
<line x1="627.20" y1="311.90" x2="618.90" y2="311.90" stroke="#000" stroke-width="1.8" />
<line x1="60.00" y1="298.82" x2="64.50" y2="298.82" stroke="#000" stroke-width="1.8" />
<line x1="627.20" y1="298.82" x2="622.70" y2="298.82" stroke="#000" stroke-width="1.8" />
<line x1="60.00" y1="285.75" x2="64.50" y2="285.75" stroke="#000" stroke-width="1.8" />
<line x1="627.20" y1="285.75" x2="622.70" y2="285.75" stroke="#000" stroke-width="1.8" />
<line x1="60.00" y1="272.67" x2="64.50" y2="272.67" stroke="#000" stroke-width="1.8" />
<line x1="627.20" y1="272.67" x2="622.70" y2="272.67" stroke="#000" stroke-width="1.8" />
<line x1="60.00" y1="259.60" x2="68.30" y2="259.60" stroke="#000" stroke-width="1.8" />
<line x1="627.20" y1="259.60" x2="618.90" y2="259.60" stroke="#000" stroke-width="1.8" />
<rect x="60.00" y="246.80" width="567.20" height="117.50" fill="none" stroke="#000" stroke-width="1.8" stroke-linejoin="round"/>
<text id="t_y2" x="43.86" y="23.13" font-size="20.21" textLength="11.10" lengthAdjust="spacingAndGlyphs" text-rendering="geometricPrecision" style="font-family:'Liberation Serif',serif">2</text>
<text id="t_y1" x="44.01" y="74.34" font-size="20.49" textLength="11.23" lengthAdjust="spacingAndGlyphs" text-rendering="geometricPrecision" style="font-family:'Liberation Serif',serif">1</text>
<text id="t_y0a" x="44.04" y="121.10" font-size="20.13" textLength="11.22" lengthAdjust="spacingAndGlyphs" text-rendering="geometricPrecision" style="font-family:'Liberation Serif',serif">0</text>
<text id="t_y04b" x="28.88" y="138.28" font-size="19.68" textLength="25.47" lengthAdjust="spacingAndGlyphs" text-rendering="geometricPrecision" style="font-family:'Liberation Serif',serif">0.4</text>
<text id="t_y02b" x="28.97" y="192.59" font-size="20.65" textLength="26.49" lengthAdjust="spacingAndGlyphs" text-rendering="geometricPrecision" style="font-family:'Liberation Serif',serif">0.2</text>
<text id="t_y0b" x="43.83" y="246.16" font-size="20.57" textLength="11.55" lengthAdjust="spacingAndGlyphs" text-rendering="geometricPrecision" style="font-family:'Liberation Serif',serif">0</text>
<text id="t_y04c" x="28.98" y="266.59" font-size="20.06" textLength="25.72" lengthAdjust="spacingAndGlyphs" text-rendering="geometricPrecision" style="font-family:'Liberation Serif',serif">0.4</text>
<text id="t_y02c" x="28.97" y="318.79" font-size="20.65" textLength="26.49" lengthAdjust="spacingAndGlyphs" text-rendering="geometricPrecision" style="font-family:'Liberation Serif',serif">0.2</text>
<text id="t_y0c" x="44.04" y="370.70" font-size="20.13" textLength="11.22" lengthAdjust="spacingAndGlyphs" text-rendering="geometricPrecision" style="font-family:'Liberation Serif',serif">0</text>
<text id="t_x0" x="58.39" y="387.53" font-size="20.49" textLength="11.00" lengthAdjust="spacingAndGlyphs" text-rendering="geometricPrecision" style="font-family:'Liberation Serif',serif">0</text>
<text id="t_x1m" x="127.17" y="387.02" font-size="20.54" textLength="21.49" lengthAdjust="spacingAndGlyphs" text-rendering="geometricPrecision" style="font-family:'Liberation Serif',serif">10</text>
<text id="t_x1s" x="148.13" y="378.38" font-size="11.32" textLength="6.63" lengthAdjust="spacingAndGlyphs" text-rendering="geometricPrecision" style="font-family:'Liberation Serif',serif">4</text>
<text id="t_x2m" x="195.56" y="386.99" font-size="20.25" textLength="41.25" lengthAdjust="spacingAndGlyphs" text-rendering="geometricPrecision" style="font-family:'Liberation Serif',serif">2×10</text>
<text id="t_x2s" x="236.69" y="378.38" font-size="11.16" textLength="6.54" lengthAdjust="spacingAndGlyphs" text-rendering="geometricPrecision" style="font-family:'Liberation Serif',serif">4</text>
<text id="t_x3m" x="273.25" y="387.02" font-size="20.22" textLength="41.36" lengthAdjust="spacingAndGlyphs" text-rendering="geometricPrecision" style="font-family:'Liberation Serif',serif">3×10</text>
<text id="t_x3s" x="314.34" y="378.52" font-size="12.20" textLength="6.71" lengthAdjust="spacingAndGlyphs" text-rendering="geometricPrecision" style="font-family:'Liberation Serif',serif">4</text>
<text id="t_x4m" x="351.40" y="387.49" font-size="20.37" textLength="40.89" lengthAdjust="spacingAndGlyphs" text-rendering="geometricPrecision" style="font-family:'Liberation Serif',serif">4×10</text>
<text id="t_x4s" x="392.18" y="378.38" font-size="11.66" textLength="6.54" lengthAdjust="spacingAndGlyphs" text-rendering="geometricPrecision" style="font-family:'Liberation Serif',serif">4</text>
<text id="t_x5m" x="428.38" y="387.19" font-size="20.46" textLength="41.60" lengthAdjust="spacingAndGlyphs" text-rendering="geometricPrecision" style="font-family:'Liberation Serif',serif">5×10</text>
<text id="t_x5s" x="469.91" y="378.10" font-size="11.18" textLength="6.69" lengthAdjust="spacingAndGlyphs" text-rendering="geometricPrecision" style="font-family:'Liberation Serif',serif">4</text>
<text id="t_x6m" x="506.63" y="386.91" font-size="20.38" textLength="41.05" lengthAdjust="spacingAndGlyphs" text-rendering="geometricPrecision" style="font-family:'Liberation Serif',serif">6×10</text>
<text id="t_x6s" x="547.64" y="378.76" font-size="11.42" textLength="6.58" lengthAdjust="spacingAndGlyphs" text-rendering="geometricPrecision" style="font-family:'Liberation Serif',serif">4</text>
<text id="t_x7m" x="583.79" y="387.06" font-size="20.43" textLength="41.56" lengthAdjust="spacingAndGlyphs" text-rendering="geometricPrecision" style="font-family:'Liberation Serif',serif">7×10</text>
<text id="t_x7s" x="625.37" y="378.76" font-size="11.42" textLength="6.58" lengthAdjust="spacingAndGlyphs" text-rendering="geometricPrecision" style="font-family:'Liberation Serif',serif">4</text>
<text id="t_xlab" x="271.51" y="414.90" font-size="20.70" textLength="142.70" lengthAdjust="spacingAndGlyphs" text-rendering="geometricPrecision" style="font-family:'Liberation Serif',serif">Elapsed Time (s)</text>
<text id="t_PN" x="99.05" y="24.45" font-size="18.02" textLength="24.34" lengthAdjust="spacingAndGlyphs" text-rendering="geometricPrecision" style="font-family:'Liberation Serif',serif">PN</text>
<text id="t_MOS1" x="98.79" y="146.81" font-size="18.31" textLength="51.82" lengthAdjust="spacingAndGlyphs" text-rendering="geometricPrecision" style="font-family:'Liberation Serif',serif">MOS 1</text>
<text id="t_MOS2" x="99.11" y="270.62" font-size="17.45" textLength="51.94" lengthAdjust="spacingAndGlyphs" text-rendering="geometricPrecision" style="font-family:'Liberation Serif',serif">MOS 2</text>
<text id="t_n1" x="319.46" y="27.55" font-size="17.64" textLength="11.08" lengthAdjust="spacingAndGlyphs" text-rendering="geometricPrecision" style="font-family:'Liberation Serif',serif">1</text>
<text id="t_n2" x="376.97" y="26.61" font-size="17.67" textLength="9.72" lengthAdjust="spacingAndGlyphs" text-rendering="geometricPrecision" style="font-family:'Liberation Serif',serif">2</text>
<text id="t_n3" x="461.84" y="26.75" font-size="17.31" textLength="9.85" lengthAdjust="spacingAndGlyphs" text-rendering="geometricPrecision" style="font-family:'Liberation Serif',serif">3</text>
<text id="t_n4" x="502.48" y="27.09" font-size="18.18" textLength="8.97" lengthAdjust="spacingAndGlyphs" text-rendering="geometricPrecision" style="font-family:'Liberation Serif',serif">4</text>
<text id="t_n5" x="558.40" y="27.40" font-size="17.82" textLength="10.35" lengthAdjust="spacingAndGlyphs" text-rendering="geometricPrecision" style="font-family:'Liberation Serif',serif">5</text>
<text id="t_ylab" transform="translate(17.05,295.84) rotate(-90)" font-size="20.00" textLength="244.60" lengthAdjust="spacingAndGlyphs" text-rendering="geometricPrecision" style="font-family:'Liberation Serif',serif">0.3-8 keV Count Rate (cts s<tspan dy="-9.50" font-size="12.50">-1</tspan><tspan dy="9.50">)</tspan></text>
</svg></body></html>
